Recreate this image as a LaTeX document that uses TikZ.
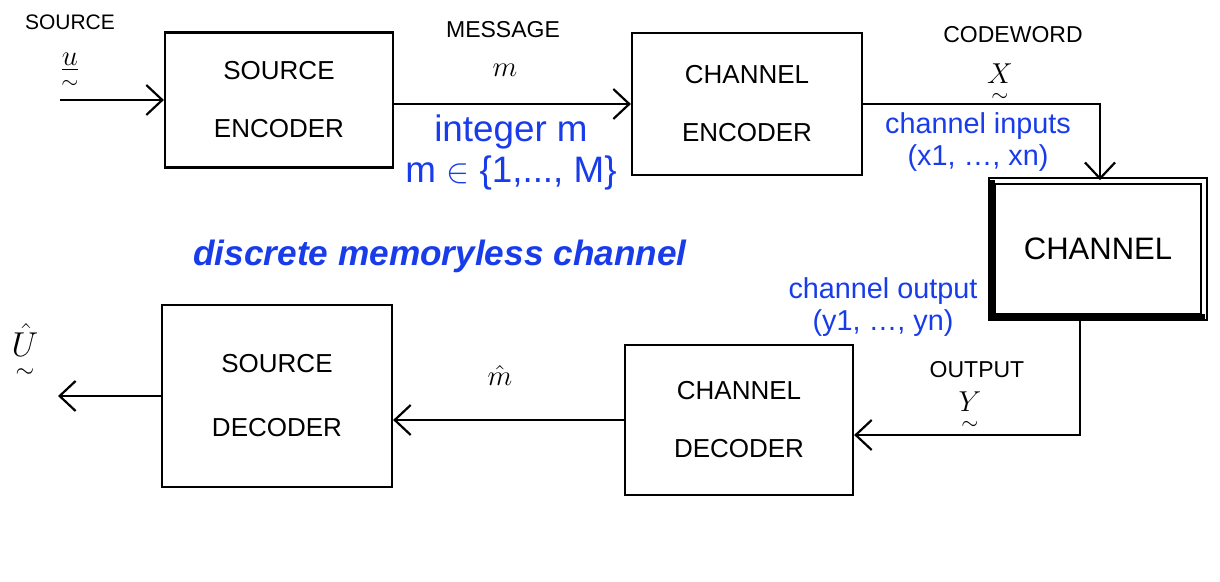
\documentclass[tikz,border=0pt]{standalone}
\usepackage{amsmath}
\usepackage{fontspec}
\setmainfont{Liberation Sans}
\usetikzlibrary{arrows.meta}
\definecolor{labelblue}{RGB}{25,60,235}

\begin{document}
\begin{tikzpicture}[x=0.5pt,y=-0.5pt,
		block/.style={draw,line width=1.1pt,align=center,font=\fontsize{13}{29}\selectfont},
		arr/.style={line width=1.1pt,-{Straight Barb[length=8pt,width=15pt]}},
		hand/.style={font=\fontsize{11.5}{14}\selectfont},
		sym/.style={inner sep=0pt,font=\fontsize{15}{16}\selectfont},
		note/.style={text=labelblue,align=center,font=\fontsize{14.4}{16}\selectfont}]
	\useasboundingbox (0,0) rectangle (1220,582);
	% blocks
	\node[block,minimum width=114pt,minimum height=67.5pt] (srcenc) at (279,100) {SOURCE\\ENCODER};
	\node[block,minimum width=115pt,minimum height=71pt] (chenc) at (747,104) {CHANNEL\\ENCODER};
	\node[block,double,double distance=2pt,line width=0.9pt,minimum width=106pt,minimum height=68pt,font=\fontsize{15.5}{18}\selectfont] (chan) at (1098,249) {CHANNEL};
	\draw[line width=3.6pt] (chan.north west) -- (chan.south west) -- (chan.south east);
	\node[block,minimum width=114pt,minimum height=75pt] (chdec) at (739,420) {CHANNEL\\DECODER};
	\node[block,minimum width=115pt,minimum height=91pt,font=\fontsize{13}{32}\selectfont] (srcdec) at (277,396) {SOURCE\\DECODER};
	\coordinate (uin) at (60,100);
	\coordinate (uout) at (58,396);
	% connectors
	\draw[arr] (uin) -- (srcenc.west);
	\draw[arr] (srcenc.east |- chenc.west) -- (chenc.west);
	\draw[arr] (chenc.east) -| ([xshift=1pt]chan.north);
	\draw[arr] ([xshift=-9pt]chan.south) |- ([yshift=-7.5pt]chdec.east);
	\draw[arr] (chdec.west) -- (chdec.west -| srcdec.east);
	\draw[arr] (srcdec.west) -- (uout);
	% handwritten labels
	\node[hand,font=\fontsize{10.5}{12}\selectfont] (srclbl) at (70,22) {SOURCE};
	\node[sym] (usym) at (70,72) {$\underset{\sim}{\underline{u}}$};
	\node[hand] (msglbl) at (503,30) {MESSAGE};
	\node[sym] (msym) at (505,70) {$m$};
	\node[hand] (cwlbl) at (1013,35) {CODEWORD};
	\node[sym] (xsym) at (1000,84) {$\underset{\sim}{X}$};
	\node[hand] (outlbl) at (977,370) {OUTPUT};
	\node[sym] (ysym) at (970,412) {$\underset{\sim}{Y}$};
	\node[sym] (mhat) at (500,376) {$\hat{m}$};
	\node[sym,font=\fontsize{17}{18}\selectfont] (uhat) at (25,352) {$\underset{\sim}{\hat{U}}$};
	% typed labels
	\node[note,font=\fontsize{18.4}{20}\selectfont] (intlbl) at (511,132) {integer m};
	\node[note,font=\fontsize{18.4}{20}\selectfont] (setlbl) at (511,173) {m $\in$ \{1,..., M\}};
	\node[note] (inlbl) at (978,126) {channel inputs};
	\node[note] (xlist) at (978,158) {(x1, …, xn)};
	\node[note] (outnote) at (883,291) {channel output};
	\node[note] (ylist) at (883,323) {(y1, …, yn)};
	\node[note,font=\bfseries\itshape\fontsize{17.6}{20}\selectfont] (dmc) at (440,256) {discrete memoryless channel};
\end{tikzpicture}
\end{document}
